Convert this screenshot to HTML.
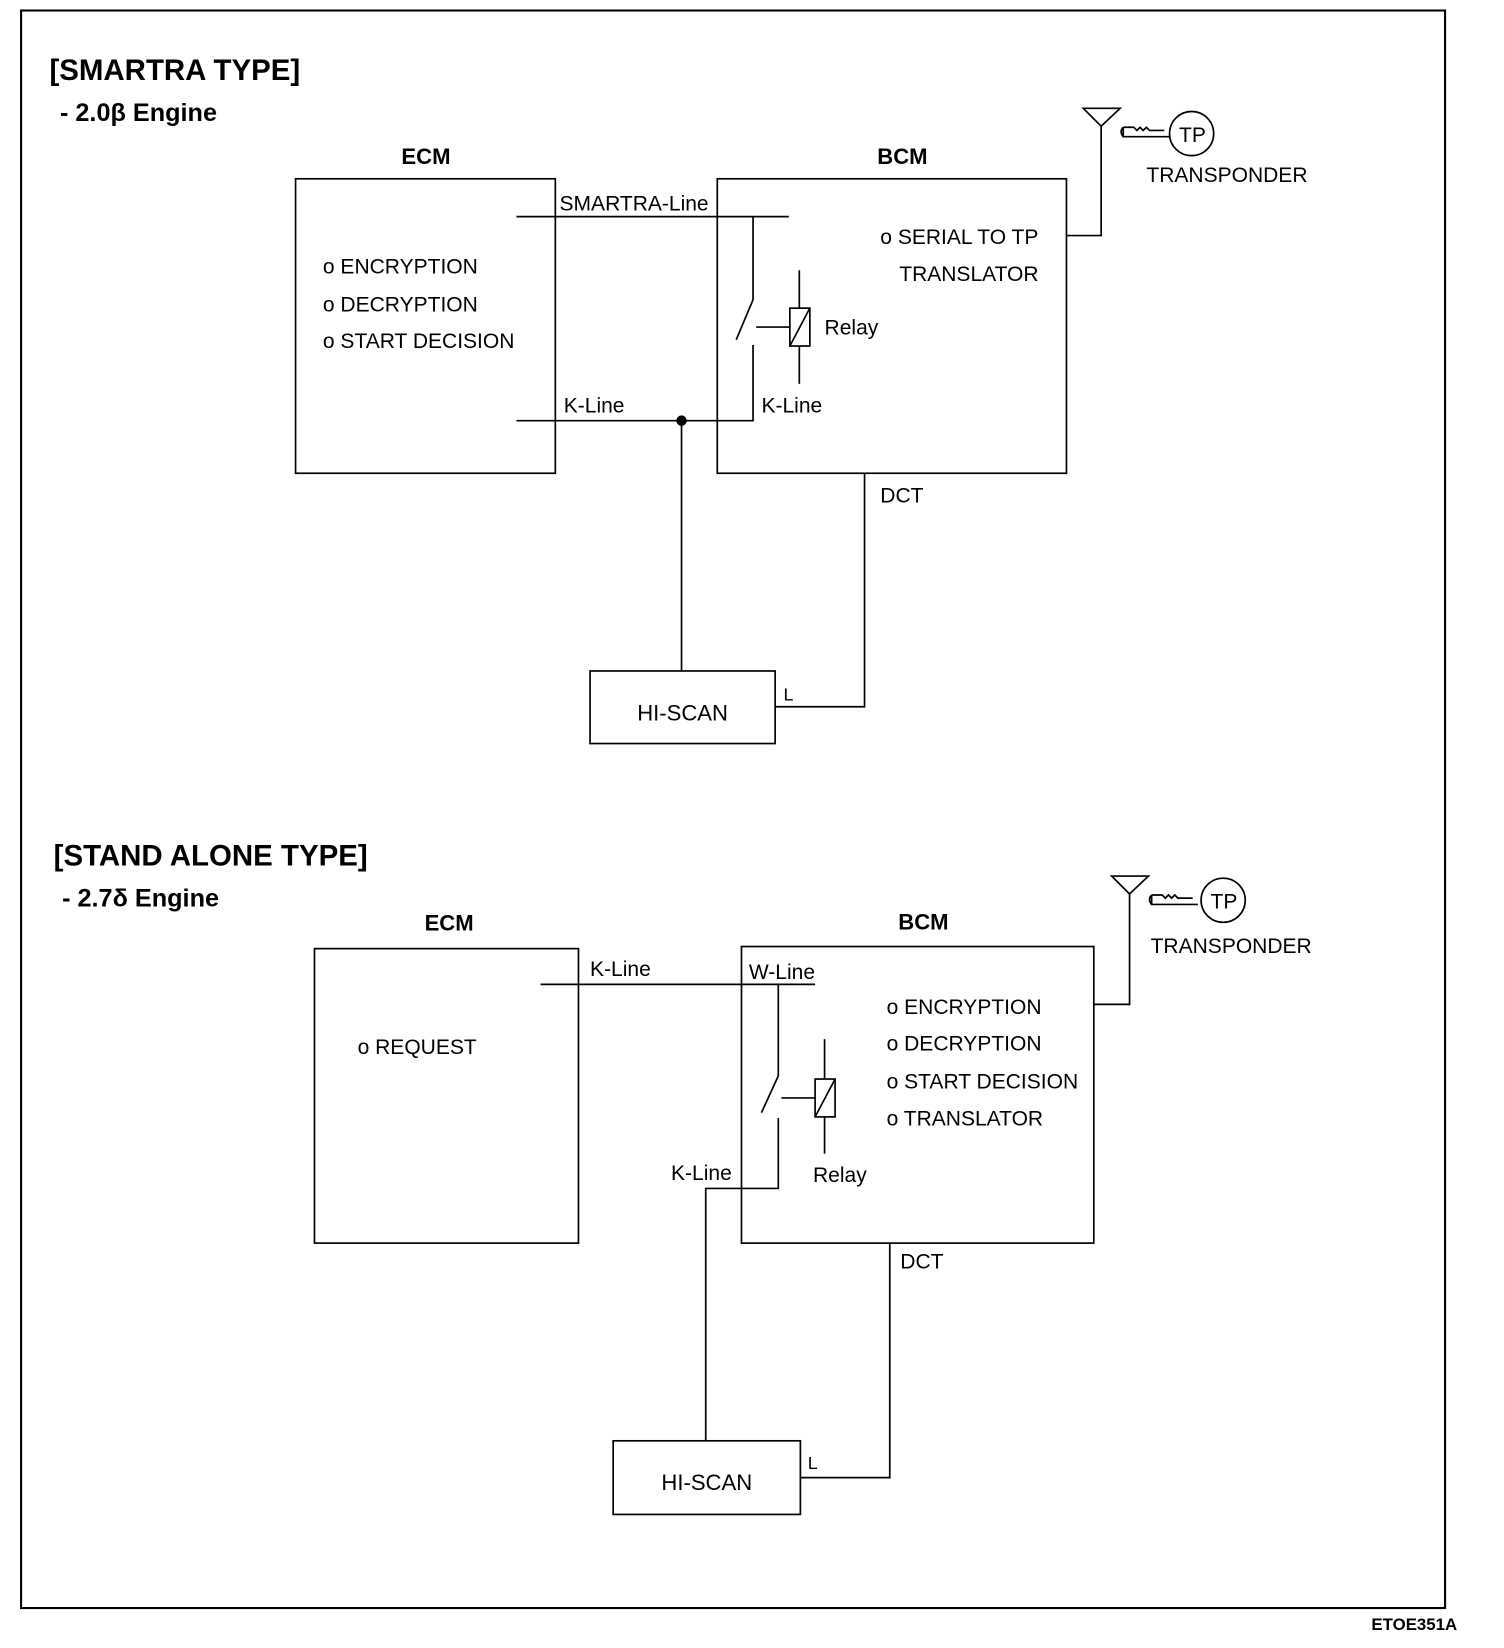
<!DOCTYPE html>
<html><head><meta charset="utf-8"><style>
html,body{margin:0;padding:0;background:#fff}
svg{display:block}
text{font-family:"Liberation Sans",Arial,sans-serif;fill:#000}
</style></head><body>
<svg width="1504" height="1648" viewBox="0 0 1430 1567" xmlns="http://www.w3.org/2000/svg">
<g fill="none" stroke="#000" stroke-width="1.6">
<rect x="20" y="10" width="1354" height="1519" stroke-width="2"/>
<!-- Top section -->
<rect x="281" y="170" width="247" height="280"/>
<rect x="682" y="170" width="332" height="280"/>
<path d="M491 206H750"/>
<path d="M716 206V285L700 323M716 328V400H491"/>
<path d="M719 311H751"/>
<rect x="751" y="293" width="19" height="36"/>
<path d="M751 329L770 293M760 257V293M760 329V365"/>
<path d="M648 400V638"/>
<rect x="561" y="638" width="176" height="69"/>
<path d="M822 450V672H737"/>
<path d="M1014 224H1047V120M1030 103H1065L1047 120Z"/>
<path d="M1068 121h10l3 3 3-3 3 3 3-3 3 3h14M1068 121v9h44M1068 121q-4 4 0 9"/>
<circle cx="1133" cy="127" r="21"/>
<!-- Bottom section -->
<rect x="299" y="902" width="251" height="280"/>
<rect x="705" y="900" width="335" height="282"/>
<path d="M514 936H775"/>
<path d="M740 936V1023L724 1058M740 1063V1130H671V1370"/>
<path d="M743 1044H775"/>
<rect x="775" y="1026" width="19" height="36"/>
<path d="M775 1062L794 1026M784 988V1026M784 1062V1097"/>
<rect x="583" y="1370" width="178" height="70"/>
<path d="M846 1182V1405H761"/>
<path d="M1040 955H1074V850M1057 833H1092L1074 850Z"/>
<path d="M1095 851h10l3 3 3-3 3 3 3-3 3 3h14M1095 851v9h44M1095 851q-4 4 0 9"/>
<circle cx="1163" cy="856" r="21"/>
</g>
<circle cx="648" cy="400" r="5" fill="#000"/>
<g font-weight="bold">
<text x="47" y="76" font-size="28">[SMARTRA TYPE]</text>
<text x="57" y="115" font-size="24">- 2.0β Engine</text>
<text x="405" y="156" font-size="21" text-anchor="middle">ECM</text>
<text x="858" y="156" font-size="21" text-anchor="middle">BCM</text>
<text x="51" y="823" font-size="28">[STAND ALONE TYPE]</text>
<text x="59" y="862" font-size="24">- 2.7δ Engine</text>
<text x="427" y="885" font-size="21" text-anchor="middle">ECM</text>
<text x="878" y="884" font-size="21" text-anchor="middle">BCM</text>
<text x="1304" y="1550" font-size="16">ETOE351A</text>
</g>
<g font-size="20">
<text x="532" y="200">SMARTRA-Line</text>
<text x="307" y="260">o ENCRYPTION</text>
<text x="307" y="296">o DECRYPTION</text>
<text x="307" y="331">o START DECISION</text>
<text x="536" y="392">K-Line</text>
<text x="724" y="392">K-Line</text>
<text x="784" y="318">Relay</text>
<text x="837" y="232">o SERIAL TO TP</text>
<text x="855" y="267">TRANSLATOR</text>
<text x="837" y="478">DCT</text>
<text x="649" y="685" text-anchor="middle" font-size="21">HI-SCAN</text>
<text x="745" y="666" font-size="17">L</text>
<text x="1121" y="135" font-size="20">TP</text>
<text x="1090" y="173">TRANSPONDER</text>
<text x="561" y="928">K-Line</text>
<text x="712" y="931">W-Line</text>
<text x="340" y="1002">o REQUEST</text>
<text x="843" y="964">o ENCRYPTION</text>
<text x="843" y="999">o DECRYPTION</text>
<text x="843" y="1035">o START DECISION</text>
<text x="843" y="1070">o TRANSLATOR</text>
<text x="638" y="1122">K-Line</text>
<text x="773" y="1124">Relay</text>
<text x="856" y="1206">DCT</text>
<text x="672" y="1417" text-anchor="middle" font-size="21">HI-SCAN</text>
<text x="768" y="1397" font-size="17">L</text>
<text x="1151" y="864" font-size="20">TP</text>
<text x="1094" y="906">TRANSPONDER</text>
</g>
</svg>
</body></html>
